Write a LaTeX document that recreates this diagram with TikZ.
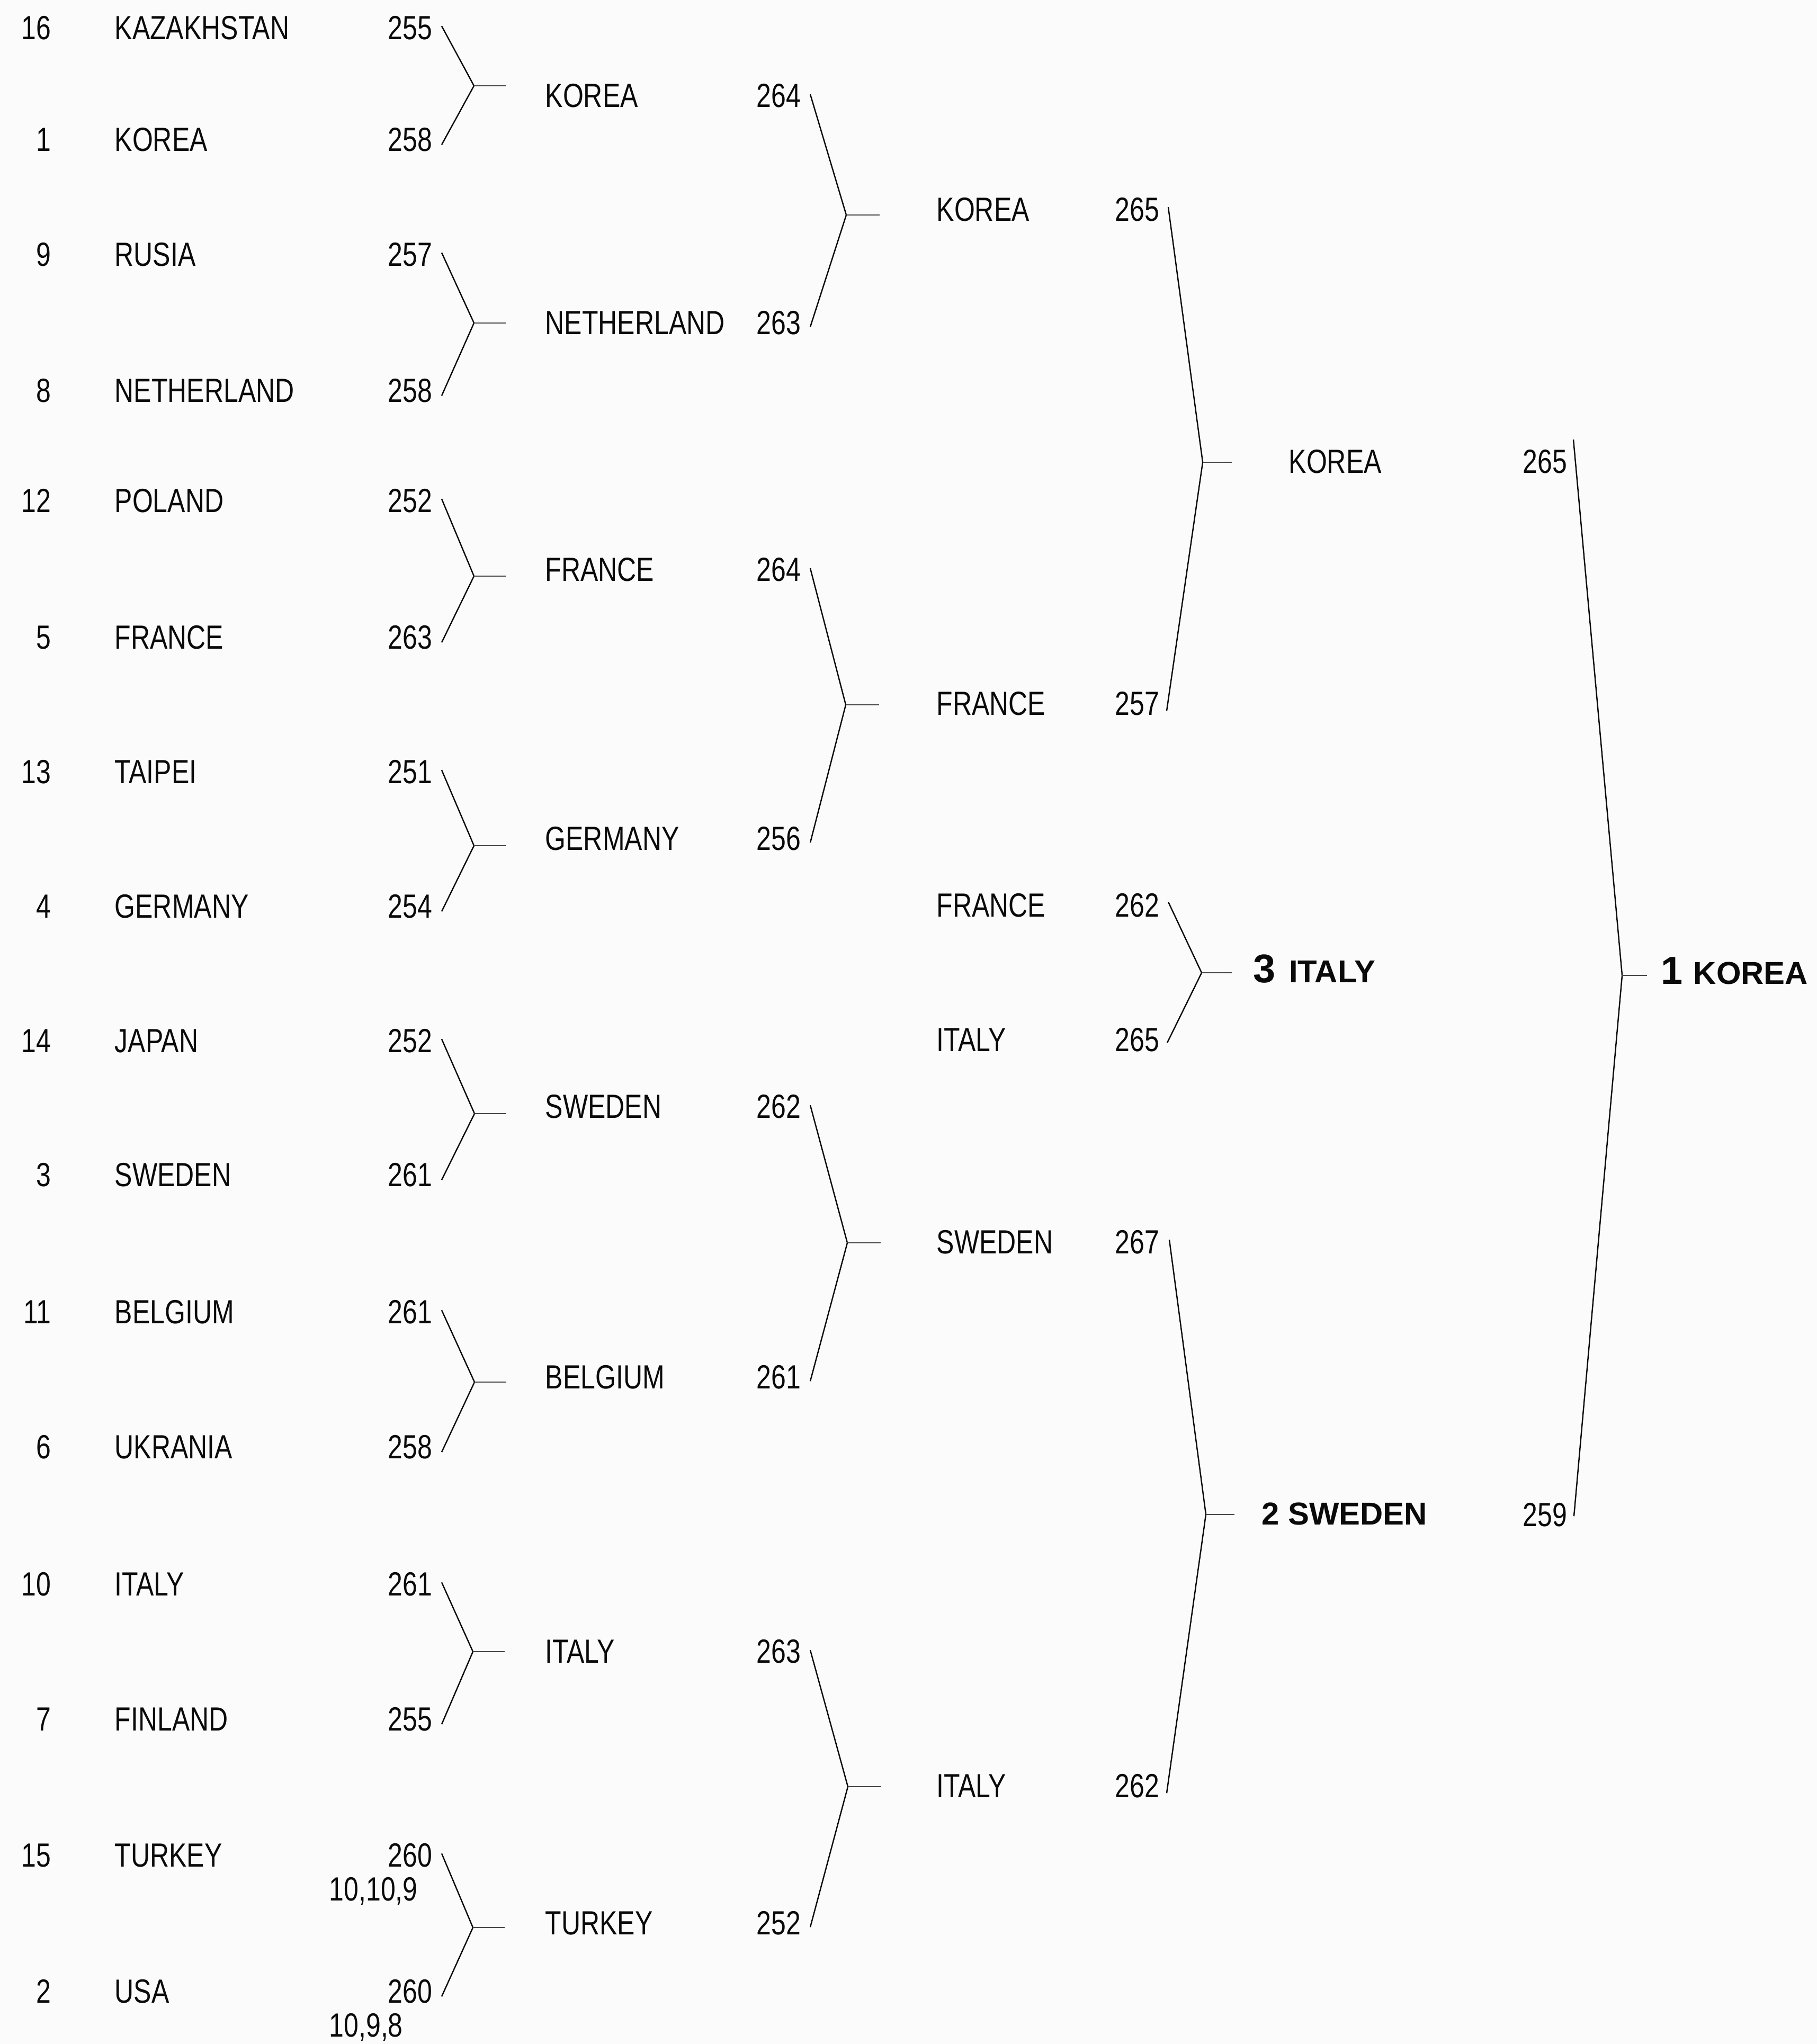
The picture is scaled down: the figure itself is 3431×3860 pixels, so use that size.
\documentclass[tikz,border=0pt]{standalone}
\usepackage{fontspec}
\setmainfont{Liberation Sans}[FakeStretch=0.79]
\newfontfamily\resultfont{Liberation Sans}
\usepackage{tikz}
\usetikzlibrary{positioning}
\usetikzlibrary{calc}
\definecolor{paper}{RGB}{251,251,251}
\definecolor{ink}{RGB}{10,10,10}
\tikzset{
  entry/.style={inner sep=0pt, text=ink, font=\fontsize{18}{20}\selectfont},
  seed/.style={entry, anchor=base east},
  team/.style={entry, anchor=base west},
  pts/.style={entry, anchor=base east},
  result/.style={inner sep=0pt, anchor=base west, text=ink,
    font=\resultfont\bfseries\fontsize{17}{20}\selectfont},
  bracket/.style={draw=ink, line width=0.7pt},
  tick/.style={draw=ink!75, line width=0.45pt},
}

\begin{document}
\begin{tikzpicture}[x=0.01cm, y=-0.01cm]

  \fill[paper] (0,0) rectangle (3431,3860);
  \useasboundingbox (0,0) rectangle (3431,3860);

  % Define nodes: first round
  \node[seed] (seed_1) at (97,74) {16};
  \node[team] (team_1) at (216,74) {KAZAKHSTAN};
  \node[pts] (pts_1) at (817,74) {255};
  \node[seed] (seed_2) at (97,285) {1};
  \node[team] (team_2) at (216,285) {KOREA};
  \node[pts] (pts_2) at (817,285) {258};

  \node[seed] (seed_3) at (97,502) {9};
  \node[team] (team_3) at (216,502) {RUSIA};
  \node[pts] (pts_3) at (817,502) {257};
  \node[seed] (seed_4) at (97,759) {8};
  \node[team] (team_4) at (216,759) {NETHERLAND};
  \node[pts] (pts_4) at (817,759) {258};

  \node[seed] (seed_5) at (97,967) {12};
  \node[team] (team_5) at (216,967) {POLAND};
  \node[pts] (pts_5) at (817,967) {252};
  \node[seed] (seed_6) at (97,1225) {5};
  \node[team] (team_6) at (216,1225) {FRANCE};
  \node[pts] (pts_6) at (817,1225) {263};

  \node[seed] (seed_7) at (97,1479) {13};
  \node[team] (team_7) at (216,1479) {TAIPEI};
  \node[pts] (pts_7) at (817,1479) {251};
  \node[seed] (seed_8) at (97,1733) {4};
  \node[team] (team_8) at (216,1733) {GERMANY};
  \node[pts] (pts_8) at (817,1733) {254};

  \node[seed] (seed_9) at (97,1987) {14};
  \node[team] (team_9) at (216,1987) {JAPAN};
  \node[pts] (pts_9) at (817,1987) {252};
  \node[seed] (seed_10) at (97,2240) {3};
  \node[team] (team_10) at (216,2240) {SWEDEN};
  \node[pts] (pts_10) at (817,2240) {261};

  \node[seed] (seed_11) at (97,2499) {11};
  \node[team] (team_11) at (216,2499) {BELGIUM};
  \node[pts] (pts_11) at (817,2499) {261};
  \node[seed] (seed_12) at (97,2754) {6};
  \node[team] (team_12) at (216,2754) {UKRANIA};
  \node[pts] (pts_12) at (817,2754) {258};

  \node[seed] (seed_13) at (97,3013) {10};
  \node[team] (team_13) at (216,3013) {ITALY};
  \node[pts] (pts_13) at (817,3013) {261};
  \node[seed] (seed_14) at (97,3268) {7};
  \node[team] (team_14) at (216,3268) {FINLAND};
  \node[pts] (pts_14) at (817,3268) {255};

  \node[seed] (seed_15) at (97,3525) {15};
  \node[team] (team_15) at (216,3525) {TURKEY};
  \node[pts] (pts_15) at (817,3525) {260};
  \node[team] (shoot_15) at (621,3589) {10,10,9};
  \node[seed] (seed_16) at (97,3782) {2};
  \node[team] (team_16) at (216,3782) {USA};
  \node[pts] (pts_16) at (817,3782) {260};
  \node[team] (shoot_16) at (621,3846) {10,9,8};

  % Define nodes: second round
  \node[team] (team2_1) at (1029,202) {KOREA};
  \node[pts] (pts2_1) at (1513,202) {264};
  \node[team] (team2_2) at (1029,631) {NETHERLAND};
  \node[pts] (pts2_2) at (1513,631) {263};
  \node[team] (team2_3) at (1029,1097) {FRANCE};
  \node[pts] (pts2_3) at (1513,1097) {264};
  \node[team] (team2_4) at (1029,1605) {GERMANY};
  \node[pts] (pts2_4) at (1513,1605) {256};
  \node[team] (team2_5) at (1029,2111) {SWEDEN};
  \node[pts] (pts2_5) at (1513,2111) {262};
  \node[team] (team2_6) at (1029,2622) {BELGIUM};
  \node[pts] (pts2_6) at (1513,2622) {261};
  \node[team] (team2_7) at (1029,3140) {ITALY};
  \node[pts] (pts2_7) at (1513,3140) {263};
  \node[team] (team2_8) at (1029,3653) {TURKEY};
  \node[pts] (pts2_8) at (1513,3653) {252};

  % Define nodes: third round
  \node[team] (team3_1) at (1768,417) {KOREA};
  \node[pts] (pts3_1) at (2190,417) {265};
  \node[team] (team3_2) at (1768,1350) {FRANCE};
  \node[pts] (pts3_2) at (2190,1350) {257};
  \node[team] (team3_3) at (1768,1731) {FRANCE};
  \node[pts] (pts3_3) at (2190,1731) {262};
  \node[team] (team3_4) at (1768,1985) {ITALY};
  \node[pts] (pts3_4) at (2190,1985) {265};
  \node[team] (team3_5) at (1768,2367) {SWEDEN};
  \node[pts] (pts3_5) at (2190,2367) {267};
  \node[team] (team3_6) at (1768,3394) {ITALY};
  \node[pts] (pts3_6) at (2190,3394) {262};

  % Define nodes: final and places
  \node[team] (team4_1) at (2433,893) {KOREA};
  \node[pts] (pts4_1) at (2960,893) {265};
  \node[result] (place_2) at (2382,2879) {2 SWEDEN};
  \node[pts] (pts4_2) at (2960,2882) {259};
  \node[result] (place_3) at (2366,1855) {{\fontsize{21.5}{24}\selectfont 3}\hspace{2.5pt} ITALY};
  \node[result] (place_1) at (3136,1858) {{\fontsize{21}{24}\selectfont 1}\hspace{1pt} KOREA};

  % Bracket points
  \coordinate (m1_1) at (895,162);
  \coordinate (m1_2) at (895,610);
  \coordinate (m1_3) at (895,1088);
  \coordinate (m1_4) at (895,1597);
  \coordinate (m1_5) at (896,2103);
  \coordinate (m1_6) at (896,2610);
  \coordinate (m1_7) at (893,3119);
  \coordinate (m1_8) at (893,3640);
  \coordinate (m2_1) at (1598,406);
  \coordinate (m2_2) at (1597,1331);
  \coordinate (m2_3) at (1600,2347);
  \coordinate (m2_4) at (1601,3374);
  \coordinate (m3_1) at (2271,873);
  \coordinate (m3_2) at (2269,1837);
  \coordinate (m3_3) at (2277,2860);
  \coordinate (m4_1) at (3063,1842);

  \coordinate[right=0.6cm of m1_1] (k1_1);
  \coordinate[right=0.6cm of m1_2] (k1_2);
  \coordinate[right=0.6cm of m1_3] (k1_3);
  \coordinate[right=0.6cm of m1_4] (k1_4);
  \coordinate[right=0.6cm of m1_5] (k1_5);
  \coordinate[right=0.6cm of m1_6] (k1_6);
  \coordinate[right=0.6cm of m1_7] (k1_7);
  \coordinate[right=0.6cm of m1_8] (k1_8);
  \coordinate[right=0.63cm of m2_1] (k2_1);
  \coordinate[right=0.63cm of m2_2] (k2_2);
  \coordinate[right=0.63cm of m2_3] (k2_3);
  \coordinate[right=0.63cm of m2_4] (k2_4);
  \coordinate[right=0.55cm of m3_1] (k3_1);
  \coordinate[right=0.57cm of m3_2] (k3_2);
  \coordinate[right=0.54cm of m3_3] (k3_3);
  \coordinate[right=0.47cm of m4_1] (k4_1);

  % Connect nodes: first round
  \draw[bracket] ($(pts_1.east)+(17,-3)$) -- (m1_1) -- ($(pts_2.east)+(17,10)$);
  \draw[bracket] ($(pts_3.east)+(17,-3)$) -- (m1_2) -- ($(pts_4.east)+(17,10)$);
  \draw[bracket] ($(pts_5.east)+(17,-3)$) -- (m1_3) -- ($(pts_6.east)+(17,10)$);
  \draw[bracket] ($(pts_7.east)+(17,-3)$) -- (m1_4) -- ($(pts_8.east)+(17,10)$);
  \draw[bracket] ($(pts_9.east)+(17,-3)$) -- (m1_5) -- ($(pts_10.east)+(17,10)$);
  \draw[bracket] ($(pts_11.east)+(17,-3)$) -- (m1_6) -- ($(pts_12.east)+(17,10)$);
  \draw[bracket] ($(pts_13.east)+(17,-3)$) -- (m1_7) -- ($(pts_14.east)+(17,10)$);
  \draw[bracket] ($(pts_15.east)+(17,-3)$) -- (m1_8) -- ($(pts_16.east)+(17,10)$);

  \draw[tick] (m1_1) -- (k1_1);
  \draw[tick] (m1_2) -- (k1_2);
  \draw[tick] (m1_3) -- (k1_3);
  \draw[tick] (m1_4) -- (k1_4);
  \draw[tick] (m1_5) -- (k1_5);
  \draw[tick] (m1_6) -- (k1_6);
  \draw[tick] (m1_7) -- (k1_7);
  \draw[tick] (m1_8) -- (k1_8);

  % Connect nodes: second round
  \draw[bracket] ($(pts2_1.east)+(17,-2)$) -- (m2_1) -- ($(pts2_2.east)+(17,8)$);
  \draw[bracket] ($(pts2_3.east)+(17,-2)$) -- (m2_2) -- ($(pts2_4.east)+(17,8)$);
  \draw[bracket] ($(pts2_5.east)+(17,-2)$) -- (m2_3) -- ($(pts2_6.east)+(17,8)$);
  \draw[bracket] ($(pts2_7.east)+(17,-2)$) -- (m2_4) -- ($(pts2_8.east)+(17,8)$);

  \draw[tick] (m2_1) -- (k2_1);
  \draw[tick] (m2_2) -- (k2_2);
  \draw[tick] (m2_3) -- (k2_3);
  \draw[tick] (m2_4) -- (k2_4);

  % Connect nodes: semi finals and third place
  \draw[bracket] ($(pts3_1.east)+(16,-4)$) -- (m3_1) -- ($(pts3_2.east)+(13,14)$);
  \draw[bracket] ($(pts3_3.east)+(16,-6)$) -- (m3_2) -- ($(pts3_4.east)+(14,6)$);
  \draw[bracket] ($(pts3_5.east)+(18,-4)$) -- (m3_3) -- ($(pts3_6.east)+(13,14)$);

  \draw[tick] (m3_1) -- (k3_1);
  \draw[tick] (m3_2) -- (k3_2);
  \draw[tick] (m3_3) -- (k3_3);

  % Connect nodes: final
  \draw[bracket] ($(pts4_1.east)+(11,-41)$) -- (m4_1) -- ($(pts4_2.east)+(12,3)$);
  \draw[tick] (m4_1) -- (k4_1);

\end{tikzpicture}
\end{document}
